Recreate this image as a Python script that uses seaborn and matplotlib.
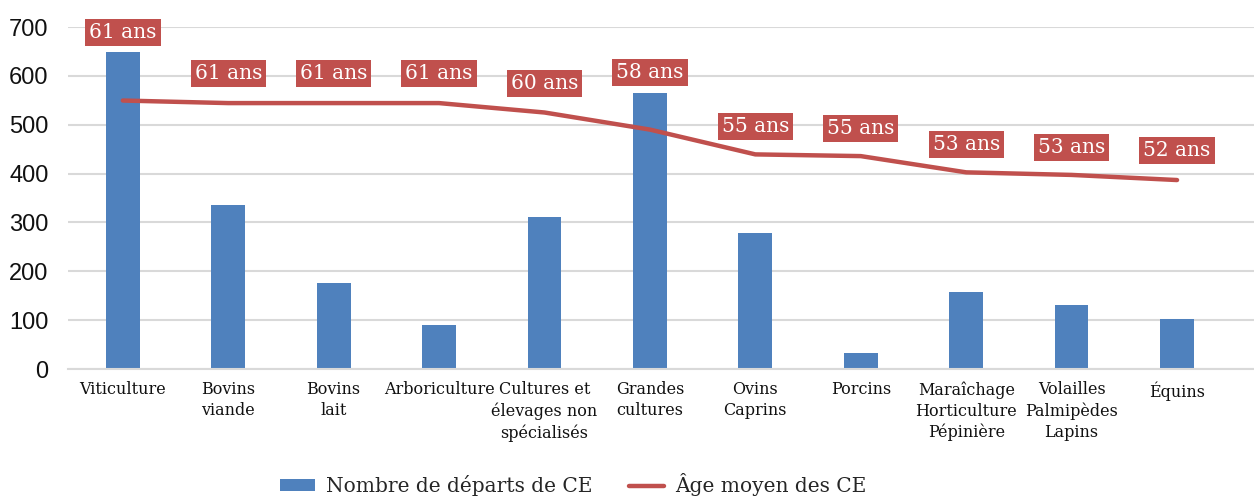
import numpy as np
import pandas as pd
import matplotlib
matplotlib.use("Agg")
import matplotlib.pyplot as plt
from matplotlib.patches import Patch
from matplotlib.lines import Line2D
import seaborn as sns

# Data
categories = [
    "Viticulture", "Bovins\nviande", "Bovins\nlait", "Arboriculture",
    "Cultures et\nélevages non\nspécialisés", "Grandes\ncultures", "Ovins\nCaprins",
    "Porcins", "Maraîchage\nHorticulture\nPépinière", "Volailles\nPalmipèdes\nLapins",
    "Équins",
]
departs = [648, 335, 176, 90, 311, 565, 278, 32, 158, 131, 103]
age_moyen = [61.4, 61.1, 61.1, 61.1, 60.0, 58.0, 55.1, 54.9, 53.0, 52.7, 52.1]

bar_label = "Nombre de départs de CE"
line_label = "Âge moyen des CE"

BLUE = "#4f81bd"
RED = "#c0504d"
GRID = "#d9d9d9"

sns.set_theme(style="white")
plt.rcParams["font.family"] = ["DejaVu Serif"]

fig = plt.figure(figsize=(12.54, 4.97), dpi=100)
ax = fig.add_axes([68 / 1254, 1 - 369 / 497, 1 - 68 / 1254, (369 - 27) / 497])

df = pd.DataFrame({"cat": categories, "departs": departs, "age": age_moyen})
sns.barplot(data=df, x="cat", y="departs", color=BLUE, saturation=1,
            width=0.32, linewidth=0, ax=ax, zorder=2)

ax.set_ylim(0, 700)
ax.set_yticks(range(0, 701, 100))
ax.set_xlim(-0.52, 10.73)
ax.grid(axis="y", color=GRID, linewidth=1.5, zorder=0)
ax.set_axisbelow(True)
for s in ["top", "right", "left"]:
    ax.spines[s].set_visible(False)
ax.spines["bottom"].set_color(GRID)
ax.spines["bottom"].set_linewidth(1.5)
ax.tick_params(axis="both", length=0)
ax.set_xlabel("")
ax.set_ylabel("")
for t in ax.get_yticklabels():
    t.set_fontfamily("Liberation Sans")
    t.set_fontsize(17)
    t.set_color("#111111")
ax.tick_params(axis="y", pad=14)
ax.tick_params(axis="x", pad=9)
for t in ax.get_xticklabels():
    t.set_fontsize(11.5)
    t.set_color("#111111")
    t.set_linespacing(1.3)

# Secondary scale for the average age line (hidden)
ax2 = ax.twinx()
ax2.set_ylim(30, 70)
ax2.axis("off")
x_idx = np.arange(len(categories))
sns.lineplot(x=x_idx, y=age_moyen, ax=ax2, color=RED, linewidth=3.2,
             legend=False, zorder=3)
ax2.set_xlim(ax.get_xlim())

# Age labels above the line (offsets in points)
label_offsets = [49, 21, 21, 21, 21, 41, 20, 20, 20, 20, 21]
for i, (a, off) in enumerate(zip(age_moyen, label_offsets)):
    ax2.annotate(f"{round(a)} ans", xy=(i, a), xytext=(0, off),
                 textcoords="offset points", ha="center", va="center",
                 fontsize=14.5, color="white",
                 bbox=dict(boxstyle="square,pad=0.2", fc=RED, ec="none"),
                 annotation_clip=False, zorder=5)

handles = [Patch(facecolor=BLUE, edgecolor="none"),
           Line2D([0], [0], color=RED, linewidth=3.2)]
fig.legend(handles, [bar_label, line_label], loc="center",
           bbox_to_anchor=(573 / 1254, 1 - 485 / 497), ncol=2, frameon=False,
           fontsize=14.5, handlelength=1.75, handleheight=0.55,
           columnspacing=1.8, handletextpad=0.55)

fig.savefig("out.png", dpi=100)
